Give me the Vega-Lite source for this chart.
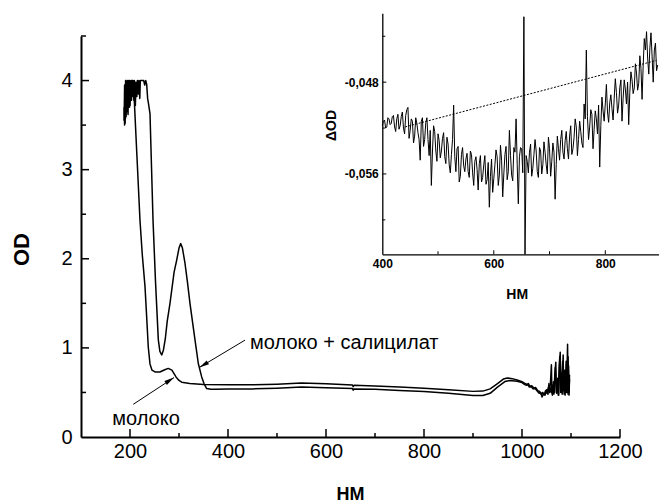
{
  "$schema": "https://vega.github.io/schema/vega-lite/v6.json",
  "width": 539,
  "height": 401,
  "autosize": {"type": "none"},
  "padding": {"left": 81, "top": 36, "right": 39, "bottom": 66},
  "background": "white",
  "config": {"view": {"stroke": null}, "font": "Liberation Sans", "axis": {"grid": false, "labelFlush": false, "labelOverlap": false, "domainColor": "black", "tickColor": "black", "labelColor": "black", "titleColor": "black"}},
  "datasets": {
    "mainticks": [
      {"axis":"x","kind":"major","v":200},{"axis":"x","kind":"major","v":400},{"axis":"x","kind":"major","v":600},{"axis":"x","kind":"major","v":800},{"axis":"x","kind":"major","v":1000},{"axis":"x","kind":"major","v":1200},
      {"axis":"x","kind":"minor","v":300},{"axis":"x","kind":"minor","v":500},{"axis":"x","kind":"minor","v":700},{"axis":"x","kind":"minor","v":900},{"axis":"x","kind":"minor","v":1100},
      {"axis":"y","kind":"major","v":1},{"axis":"y","kind":"major","v":2},{"axis":"y","kind":"major","v":3},{"axis":"y","kind":"major","v":4},
      {"axis":"y","kind":"minor","v":0.5},{"axis":"y","kind":"minor","v":1.5},{"axis":"y","kind":"minor","v":2.5},{"axis":"y","kind":"minor","v":3.5},{"axis":"y","kind":"minor","v":4.5}
    ],
    "insetticks": [
      {"axis":"x","kind":"major","v":600},{"axis":"x","kind":"major","v":800},
      {"axis":"x","kind":"minor","v":500},{"axis":"x","kind":"minor","v":700},
      {"axis":"y","kind":"major","v":-0.056},{"axis":"y","kind":"major","v":-0.048},
      {"axis":"y","kind":"minor","v":-0.06},{"axis":"y","kind":"minor","v":-0.052},{"axis":"y","kind":"minor","v":-0.044}
    ],
    "spectra": [
      {"nm":188,"od":3.55,"series":"молоко"},{"nm":189,"od":3.95,"series":"молоко"},{"nm":190,"od":3.52,"series":"молоко"},{"nm":191,"od":4.0,"series":"молоко"},{"nm":192,"od":3.6,"series":"молоко"},{"nm":193,"od":3.98,"series":"молоко"},{"nm":194,"od":3.7,"series":"молоко"},{"nm":195,"od":4.0,"series":"молоко"},{"nm":196,"od":3.75,"series":"молоко"},{"nm":197,"od":3.98,"series":"молоко"},{"nm":198,"od":3.8,"series":"молоко"},{"nm":199,"od":4.0,"series":"молоко"},{"nm":200,"od":3.72,"series":"молоко"},{"nm":202,"od":4.0,"series":"молоко"},{"nm":203,"od":3.78,"series":"молоко"},{"nm":205,"od":4.0,"series":"молоко"},{"nm":206,"od":3.82,"series":"молоко"},{"nm":207,"od":3.98,"series":"молоко"},{"nm":209,"od":3.75,"series":"молоко"},{"nm":214,"od":3.17,"series":"молоко"},{"nm":220.4,"od":2.43,"series":"молоко"},{"nm":225,"od":2.05,"series":"молоко"},{"nm":230.6,"od":1.69,"series":"молоко"},{"nm":234,"od":1.35,"series":"молоко"},{"nm":237.3,"od":1.01,"series":"молоко"},{"nm":240.8,"od":0.82,"series":"молоко"},{"nm":244.9,"od":0.75,"series":"молоко"},{"nm":251,"od":0.73,"series":"молоко"},{"nm":261,"od":0.73,"series":"молоко"},{"nm":271,"od":0.755,"series":"молоко"},{"nm":278,"od":0.77,"series":"молоко"},{"nm":285.5,"od":0.75,"series":"молоко"},{"nm":293.9,"od":0.674,"series":"молоко"},{"nm":300,"od":0.635,"series":"молоко"},{"nm":305.5,"od":0.615,"series":"молоко"},{"nm":322,"od":0.6,"series":"молоко"},{"nm":350,"od":0.59,"series":"молоко"},{"nm":400,"od":0.585,"series":"молоко"},{"nm":450,"od":0.585,"series":"молоко"},{"nm":500,"od":0.592,"series":"молоко"},{"nm":550,"od":0.605,"series":"молоко"},{"nm":600,"od":0.598,"series":"молоко"},{"nm":654,"od":0.583,"series":"молоко"},{"nm":655.5,"od":0.565,"series":"молоко"},{"nm":657,"od":0.58,"series":"молоко"},{"nm":700,"od":0.573,"series":"молоко"},{"nm":750,"od":0.56,"series":"молоко"},{"nm":800,"od":0.548,"series":"молоко"},{"nm":850,"od":0.53,"series":"молоко"},{"nm":900,"od":0.512,"series":"молоко"},{"nm":920,"od":0.515,"series":"молоко"},{"nm":935,"od":0.54,"series":"молоко"},{"nm":950,"od":0.6,"series":"молоко"},{"nm":962,"od":0.65,"series":"молоко"},{"nm":970,"od":0.662,"series":"молоко"},{"nm":980,"od":0.655,"series":"молоко"},{"nm":990,"od":0.64,"series":"молоко"},{"nm":1000,"od":0.62,"series":"молоко"},{"nm":1005,"od":0.605,"series":"молоко"},{"nm":1010,"od":0.59,"series":"молоко"},{"nm":1013,"od":0.6,"series":"молоко"},{"nm":1016,"od":0.57,"series":"молоко"},{"nm":1020,"od":0.575,"series":"молоко"},{"nm":1024,"od":0.55,"series":"молоко"},{"nm":1028,"od":0.555,"series":"молоко"},{"nm":1032,"od":0.52,"series":"молоко"},{"nm":1036,"od":0.51,"series":"молоко"},{"nm":1039,"od":0.48,"series":"молоко"},{"nm":1042,"od":0.5,"series":"молоко"},{"nm":1045,"od":0.47,"series":"молоко"},{"nm":1048,"od":0.52,"series":"молоко"},{"nm":1051,"od":0.49,"series":"молоко"},{"nm":1054,"od":0.56,"series":"молоко"},{"nm":1056,"od":0.5,"series":"молоко"},{"nm":1058,"od":0.6,"series":"молоко"},{"nm":1060,"od":0.81,"series":"молоко"},{"nm":1061,"od":0.5,"series":"молоко"},{"nm":1063,"od":0.58,"series":"молоко"},{"nm":1065,"od":0.48,"series":"молоко"},{"nm":1067,"od":0.7,"series":"молоко"},{"nm":1069,"od":0.84,"series":"молоко"},{"nm":1070,"od":0.5,"series":"молоко"},{"nm":1072,"od":0.62,"series":"молоко"},{"nm":1074,"od":0.47,"series":"молоко"},{"nm":1076,"od":0.8,"series":"молоко"},{"nm":1078,"od":0.95,"series":"молоко"},{"nm":1079,"od":0.5,"series":"молоко"},{"nm":1081,"od":0.7,"series":"молоко"},{"nm":1082,"od":0.48,"series":"молоко"},{"nm":1084,"od":0.92,"series":"молоко"},{"nm":1085,"od":0.52,"series":"молоко"},{"nm":1087,"od":0.75,"series":"молоко"},{"nm":1088,"od":0.47,"series":"молоко"},{"nm":1090,"od":0.85,"series":"молоко"},{"nm":1091,"od":0.5,"series":"молоко"},{"nm":1093,"od":1.04,"series":"молоко"},{"nm":1094,"od":0.48,"series":"молоко"},{"nm":1095,"od":0.8,"series":"молоко"},{"nm":1096,"od":0.5,"series":"молоко"},{"nm":1097,"od":0.7,"series":"молоко"},
      {"nm":188,"od":3.7,"series":"молоко + салицилат"},{"nm":189,"od":3.5,"series":"молоко + салицилат"},{"nm":190,"od":3.9,"series":"молоко + салицилат"},{"nm":191,"od":3.58,"series":"молоко + салицилат"},{"nm":192,"od":4.0,"series":"молоко + салицилат"},{"nm":193,"od":3.65,"series":"молоко + салицилат"},{"nm":194,"od":3.95,"series":"молоко + салицилат"},{"nm":196,"od":3.62,"series":"молоко + салицилат"},{"nm":197,"od":4.0,"series":"молоко + салицилат"},{"nm":199,"od":3.7,"series":"молоко + салицилат"},{"nm":200,"od":3.98,"series":"молоко + салицилат"},{"nm":201,"od":3.8,"series":"молоко + салицилат"},{"nm":203,"od":4.0,"series":"молоко + салицилат"},{"nm":205,"od":3.85,"series":"молоко + салицилат"},{"nm":206,"od":4.0,"series":"молоко + салицилат"},{"nm":208,"od":3.78,"series":"молоко + салицилат"},{"nm":209,"od":4.0,"series":"молоко + салицилат"},{"nm":211,"od":3.72,"series":"молоко + салицилат"},{"nm":212,"od":3.98,"series":"молоко + салицилат"},{"nm":214,"od":3.82,"series":"молоко + салицилат"},{"nm":215,"od":4.0,"series":"молоко + салицилат"},{"nm":217,"od":3.85,"series":"молоко + салицилат"},{"nm":218,"od":4.0,"series":"молоко + салицилат"},{"nm":220,"od":3.8,"series":"молоко + салицилат"},{"nm":221,"od":4.0,"series":"молоко + салицилат"},{"nm":228,"od":4.0,"series":"молоко + салицилат"},{"nm":230,"od":3.95,"series":"молоко + салицилат"},{"nm":232,"od":4.0,"series":"молоко + салицилат"},{"nm":234,"od":3.96,"series":"молоко + салицилат"},{"nm":236,"od":3.8,"series":"молоко + салицилат"},{"nm":237.5,"od":3.75,"series":"молоко + салицилат"},{"nm":240.8,"od":3.63,"series":"молоко + салицилат"},{"nm":247,"od":2.43,"series":"молоко + салицилат"},{"nm":252,"od":1.75,"series":"молоко + салицилат"},{"nm":257.8,"od":1.09,"series":"молоко + салицилат"},{"nm":261,"od":0.96,"series":"молоко + салицилат"},{"nm":264.7,"od":0.92,"series":"молоко + салицилат"},{"nm":268,"od":0.97,"series":"молоко + салицилат"},{"nm":272,"od":1.1,"series":"молоко + салицилат"},{"nm":276,"od":1.3,"series":"молоко + салицилат"},{"nm":281.6,"od":1.5,"series":"молоко + салицилат"},{"nm":290,"od":1.85,"series":"молоко + салицилат"},{"nm":295.3,"od":1.985,"series":"молоко + салицилат"},{"nm":300,"od":2.12,"series":"молоко + салицилат"},{"nm":303.5,"od":2.17,"series":"молоко + салицилат"},{"nm":307,"od":2.12,"series":"молоко + салицилат"},{"nm":312.2,"od":1.95,"series":"молоко + салицилат"},{"nm":317,"od":1.75,"series":"молоко + салицилат"},{"nm":322.4,"od":1.5,"series":"молоко + салицилат"},{"nm":332.7,"od":1.087,"series":"молоко + салицилат"},{"nm":339.4,"od":0.825,"series":"молоко + салицилат"},{"nm":346.3,"od":0.674,"series":"молоко + салицилат"},{"nm":351,"od":0.6,"series":"молоко + салицилат"},{"nm":356.5,"od":0.544,"series":"молоко + салицилат"},{"nm":365,"od":0.535,"series":"молоко + салицилат"},{"nm":373.5,"od":0.536,"series":"молоко + салицилат"},{"nm":400,"od":0.54,"series":"молоко + салицилат"},{"nm":450,"od":0.54,"series":"молоко + салицилат"},{"nm":500,"od":0.547,"series":"молоко + салицилат"},{"nm":550,"od":0.56,"series":"молоко + салицилат"},{"nm":600,"od":0.553,"series":"молоко + салицилат"},{"nm":654,"od":0.543,"series":"молоко + салицилат"},{"nm":655.5,"od":0.525,"series":"молоко + салицилат"},{"nm":657,"od":0.54,"series":"молоко + салицилат"},{"nm":700,"od":0.535,"series":"молоко + салицилат"},{"nm":750,"od":0.522,"series":"молоко + салицилат"},{"nm":800,"od":0.51,"series":"молоко + салицилат"},{"nm":850,"od":0.49,"series":"молоко + салицилат"},{"nm":900,"od":0.466,"series":"молоко + салицилат"},{"nm":920,"od":0.465,"series":"молоко + салицилат"},{"nm":935,"od":0.49,"series":"молоко + салицилат"},{"nm":950,"od":0.56,"series":"молоко + салицилат"},{"nm":965,"od":0.622,"series":"молоко + салицилат"},{"nm":975,"od":0.635,"series":"молоко + салицилат"},{"nm":990,"od":0.625,"series":"молоко + салицилат"},{"nm":1000,"od":0.61,"series":"молоко + салицилат"},{"nm":1005,"od":0.59,"series":"молоко + салицилат"},{"nm":1009,"od":0.58,"series":"молоко + салицилат"},{"nm":1012,"od":0.585,"series":"молоко + салицилат"},{"nm":1015,"od":0.56,"series":"молоко + салицилат"},{"nm":1019,"od":0.565,"series":"молоко + салицилат"},{"nm":1023,"od":0.54,"series":"молоко + салицилат"},{"nm":1027,"od":0.545,"series":"молоко + салицилат"},{"nm":1031,"od":0.515,"series":"молоко + салицилат"},{"nm":1035,"od":0.49,"series":"молоко + салицилат"},{"nm":1038,"od":0.5,"series":"молоко + салицилат"},{"nm":1041,"od":0.45,"series":"молоко + салицилат"},{"nm":1044,"od":0.49,"series":"молоко + салицилат"},{"nm":1047,"od":0.47,"series":"молоко + салицилат"},{"nm":1050,"od":0.53,"series":"молоко + салицилат"},{"nm":1053,"od":0.48,"series":"молоко + салицилат"},{"nm":1055,"od":0.6,"series":"молоко + салицилат"},{"nm":1057,"od":0.5,"series":"молоко + салицилат"},{"nm":1059,"od":0.55,"series":"молоко + салицилат"},{"nm":1062,"od":0.47,"series":"молоко + салицилат"},{"nm":1064,"od":0.62,"series":"молоко + салицилат"},{"nm":1066,"od":0.5,"series":"молоко + салицилат"},{"nm":1068,"od":0.78,"series":"молоко + салицилат"},{"nm":1071,"od":0.49,"series":"молоко + салицилат"},{"nm":1073,"od":0.66,"series":"молоко + салицилат"},{"nm":1075,"od":0.47,"series":"молоко + салицилат"},{"nm":1077,"od":0.9,"series":"молоко + салицилат"},{"nm":1080,"od":0.55,"series":"молоко + салицилат"},{"nm":1083,"od":0.85,"series":"молоко + салицилат"},{"nm":1086,"od":0.48,"series":"молоко + салицилат"},{"nm":1089,"od":0.72,"series":"молоко + салицилат"},{"nm":1092,"od":0.52,"series":"молоко + салицилат"},{"nm":1094,"od":0.9,"series":"молоко + салицилат"},{"nm":1096,"od":0.47,"series":"молоко + салицилат"},{"nm":1097,"od":0.65,"series":"молоко + салицилат"}
    ],
    "inset": [
      {"nm":400,"dod":-0.0518},{"nm":402,"dod":-0.0514},{"nm":404,"dod":-0.0513},{"nm":406,"dod":-0.052},{"nm":408,"dod":-0.0519},{"nm":410,"dod":-0.0511},{"nm":412,"dod":-0.0512},{"nm":414,"dod":-0.0517},{"nm":416,"dod":-0.0516},{"nm":418,"dod":-0.051},{"nm":420,"dod":-0.0509},{"nm":422,"dod":-0.0519},{"nm":424,"dod":-0.0523},{"nm":426,"dod":-0.0512},{"nm":428,"dod":-0.0508},{"nm":430,"dod":-0.0521},{"nm":432,"dod":-0.0518},{"nm":434,"dod":-0.051},{"nm":436,"dod":-0.0506},{"nm":438,"dod":-0.052},{"nm":440,"dod":-0.0525},{"nm":442,"dod":-0.0509},{"nm":444,"dod":-0.0504},{"nm":446,"dod":-0.0502},{"nm":448,"dod":-0.0529},{"nm":450,"dod":-0.0522},{"nm":452,"dod":-0.0512},{"nm":454,"dod":-0.0514},{"nm":456,"dod":-0.0533},{"nm":458,"dod":-0.0527},{"nm":460,"dod":-0.0511},{"nm":462,"dod":-0.0516},{"nm":464,"dod":-0.0524},{"nm":466,"dod":-0.053},{"nm":468,"dod":-0.0548},{"nm":470,"dod":-0.0514},{"nm":472,"dod":-0.0511},{"nm":474,"dod":-0.0536},{"nm":476,"dod":-0.053},{"nm":478,"dod":-0.0515},{"nm":480,"dod":-0.0511},{"nm":482,"dod":-0.053},{"nm":484,"dod":-0.0544},{"nm":486,"dod":-0.0522},{"nm":488,"dod":-0.057},{"nm":490,"dod":-0.054},{"nm":492,"dod":-0.0518},{"nm":494,"dod":-0.0523},{"nm":496,"dod":-0.054},{"nm":498,"dod":-0.0549},{"nm":500,"dod":-0.0525},{"nm":502,"dod":-0.0531},{"nm":504,"dod":-0.0546},{"nm":506,"dod":-0.054},{"nm":508,"dod":-0.0529},{"nm":510,"dod":-0.0524},{"nm":512,"dod":-0.0545},{"nm":514,"dod":-0.0551},{"nm":516,"dod":-0.0528},{"nm":518,"dod":-0.0534},{"nm":520,"dod":-0.0552},{"nm":522,"dod":-0.0559},{"nm":524,"dod":-0.0543},{"nm":526,"dod":-0.053},{"nm":528,"dod":-0.05},{"nm":530,"dod":-0.0545},{"nm":532,"dod":-0.0558},{"nm":534,"dod":-0.0538},{"nm":536,"dod":-0.0536},{"nm":538,"dod":-0.0567},{"nm":540,"dod":-0.0562},{"nm":542,"dod":-0.0543},{"nm":544,"dod":-0.0537},{"nm":546,"dod":-0.0553},{"nm":548,"dod":-0.0558},{"nm":550,"dod":-0.0547},{"nm":552,"dod":-0.0542},{"nm":554,"dod":-0.0558},{"nm":556,"dod":-0.0563},{"nm":558,"dod":-0.054},{"nm":560,"dod":-0.0543},{"nm":562,"dod":-0.0559},{"nm":564,"dod":-0.057},{"nm":566,"dod":-0.0549},{"nm":568,"dod":-0.0545},{"nm":570,"dod":-0.0556},{"nm":572,"dod":-0.0574},{"nm":574,"dod":-0.0551},{"nm":576,"dod":-0.0544},{"nm":578,"dod":-0.0567},{"nm":580,"dod":-0.0563},{"nm":582,"dod":-0.0552},{"nm":584,"dod":-0.0544},{"nm":586,"dod":-0.0569},{"nm":588,"dod":-0.0565},{"nm":590,"dod":-0.055},{"nm":592,"dod":-0.0589},{"nm":594,"dod":-0.0562},{"nm":596,"dod":-0.0547},{"nm":598,"dod":-0.0576},{"nm":600,"dod":-0.0564},{"nm":602,"dod":-0.0552},{"nm":604,"dod":-0.0539},{"nm":606,"dod":-0.0545},{"nm":608,"dod":-0.057},{"nm":610,"dod":-0.0561},{"nm":612,"dod":-0.0535},{"nm":614,"dod":-0.0548},{"nm":616,"dod":-0.058},{"nm":618,"dod":-0.056},{"nm":620,"dod":-0.0543},{"nm":622,"dod":-0.0536},{"nm":624,"dod":-0.0565},{"nm":626,"dod":-0.0558},{"nm":628,"dod":-0.0522},{"nm":630,"dod":-0.0544},{"nm":632,"dod":-0.0561},{"nm":634,"dod":-0.0566},{"nm":636,"dod":-0.0537},{"nm":638,"dod":-0.0541},{"nm":640,"dod":-0.0512},{"nm":642,"dod":-0.0552},{"nm":644,"dod":-0.0586},{"nm":646,"dod":-0.0545},{"nm":648,"dod":-0.0537},{"nm":650,"dod":-0.0538},{"nm":652,"dod":-0.0559},{"nm":654,"dod":-0.0423},{"nm":656,"dod":-0.063},{"nm":658,"dod":-0.0544},{"nm":660,"dod":-0.0549},{"nm":662,"dod":-0.0559},{"nm":664,"dod":-0.0541},{"nm":666,"dod":-0.0534},{"nm":668,"dod":-0.0562},{"nm":670,"dod":-0.0555},{"nm":672,"dod":-0.0543},{"nm":674,"dod":-0.053},{"nm":676,"dod":-0.054},{"nm":678,"dod":-0.0558},{"nm":680,"dod":-0.0563},{"nm":682,"dod":-0.0537},{"nm":684,"dod":-0.054},{"nm":686,"dod":-0.056},{"nm":688,"dod":-0.0552},{"nm":690,"dod":-0.0532},{"nm":692,"dod":-0.0541},{"nm":694,"dod":-0.0552},{"nm":696,"dod":-0.056},{"nm":698,"dod":-0.0528},{"nm":700,"dod":-0.0538},{"nm":702,"dod":-0.0562},{"nm":704,"dod":-0.0549},{"nm":706,"dod":-0.0533},{"nm":708,"dod":-0.0541},{"nm":710,"dod":-0.0582},{"nm":712,"dod":-0.0552},{"nm":714,"dod":-0.0527},{"nm":716,"dod":-0.0538},{"nm":718,"dod":-0.0548},{"nm":720,"dod":-0.053},{"nm":722,"dod":-0.0522},{"nm":724,"dod":-0.0541},{"nm":726,"dod":-0.0547},{"nm":728,"dod":-0.0531},{"nm":730,"dod":-0.0523},{"nm":732,"dod":-0.0538},{"nm":734,"dod":-0.0547},{"nm":736,"dod":-0.0527},{"nm":738,"dod":-0.0518},{"nm":740,"dod":-0.0543},{"nm":742,"dod":-0.0538},{"nm":744,"dod":-0.0528},{"nm":746,"dod":-0.0512},{"nm":748,"dod":-0.0519},{"nm":750,"dod":-0.0544},{"nm":752,"dod":-0.053},{"nm":754,"dod":-0.0514},{"nm":756,"dod":-0.0523},{"nm":758,"dod":-0.0533},{"nm":760,"dod":-0.0537},{"nm":762,"dod":-0.0499},{"nm":764,"dod":-0.0512},{"nm":766,"dod":-0.0452},{"nm":768,"dod":-0.051},{"nm":770,"dod":-0.053},{"nm":772,"dod":-0.0519},{"nm":774,"dod":-0.0504},{"nm":776,"dod":-0.0508},{"nm":778,"dod":-0.0538},{"nm":780,"dod":-0.0521},{"nm":782,"dod":-0.0505},{"nm":784,"dod":-0.0512},{"nm":786,"dod":-0.0525},{"nm":788,"dod":-0.05},{"nm":790,"dod":-0.0554},{"nm":792,"dod":-0.0518},{"nm":794,"dod":-0.0493},{"nm":796,"dod":-0.0505},{"nm":798,"dod":-0.0514},{"nm":800,"dod":-0.0499},{"nm":802,"dod":-0.0482},{"nm":804,"dod":-0.0506},{"nm":806,"dod":-0.0515},{"nm":808,"dod":-0.0498},{"nm":810,"dod":-0.0491},{"nm":812,"dod":-0.0503},{"nm":814,"dod":-0.0513},{"nm":816,"dod":-0.0494},{"nm":818,"dod":-0.0477},{"nm":820,"dod":-0.0489},{"nm":822,"dod":-0.0507},{"nm":824,"dod":-0.05},{"nm":826,"dod":-0.0485},{"nm":828,"dod":-0.0478},{"nm":830,"dod":-0.0514},{"nm":832,"dod":-0.0494},{"nm":834,"dod":-0.0478},{"nm":836,"dod":-0.0486},{"nm":838,"dod":-0.0499},{"nm":840,"dod":-0.048},{"nm":842,"dod":-0.0517},{"nm":844,"dod":-0.0489},{"nm":846,"dod":-0.0471},{"nm":848,"dod":-0.0478},{"nm":850,"dod":-0.049},{"nm":852,"dod":-0.0485},{"nm":854,"dod":-0.0464},{"nm":856,"dod":-0.0472},{"nm":858,"dod":-0.0487},{"nm":860,"dod":-0.0481},{"nm":862,"dod":-0.0457},{"nm":864,"dod":-0.0468},{"nm":866,"dod":-0.0495},{"nm":868,"dod":-0.0465},{"nm":870,"dod":-0.0442},{"nm":872,"dod":-0.0452},{"nm":874,"dod":-0.0436},{"nm":876,"dod":-0.0459},{"nm":878,"dod":-0.0473},{"nm":880,"dod":-0.045},{"nm":882,"dod":-0.0437},{"nm":884,"dod":-0.0458},{"nm":886,"dod":-0.048},{"nm":888,"dod":-0.0452},{"nm":890,"dod":-0.0446},{"nm":892,"dod":-0.047},{"nm":894,"dod":-0.0465}
    ]
  },
  "layer": [
    {
      "layer": [
        {
          "data": {"name": "spectra"},
          "mark": {"type": "line", "color": "black", "strokeWidth": 1.5, "strokeJoin": "round"},
          "encoding": {
            "x": {"field": "nm", "type": "quantitative", "scale": {"domain": [100, 1200], "nice": false, "zero": false},
              "axis": {"orient": "bottom", "title": "НМ", "titleFont": "Liberation Sans", "titleFontSize": 18, "titleFontWeight": "bold", "titleX": 269, "titleY": 62.5, "titleBaseline": "alphabetic", "titleAlign": "center", "titleAnchor": null,
                "values": [200, 400, 600, 800, 1000, 1200], "format": "d",
                "labelFontSize": 20, "labelPadding": 4, "domainWidth": 2, "ticks": false, "tickSize": 0}},
            "y": {"field": "od", "type": "quantitative", "scale": {"domain": [0, 4.5], "nice": false, "zero": false},
              "axis": {"orient": "left", "title": "OD", "titleFont": "Liberation Sans", "titleFontSize": 22, "titleFontWeight": "bold", "titleX": -52.7, "titleY": 213, "titleAngle": -90, "titleBaseline": "alphabetic", "titleAlign": "center",
                "values": [0, 1, 2, 3, 4], "format": "d",
                "labelFontSize": 20, "labelPadding": 9, "domainWidth": 2, "ticks": false, "tickSize": 0}},
            "detail": {"field": "series", "type": "nominal"}
          }
        },
        {
          "data": {"name": "mainticks"},
          "transform": [{"filter": "datum.axis === 'x' && datum.kind === 'major'"}],
          "mark": {"type": "rule", "color": "black", "strokeWidth": 1.5},
          "encoding": {"x": {"field": "v", "type": "quantitative"}, "y": {"datum": 0, "type": "quantitative"}, "y2": {"datum": 0.09}}
        },
        {
          "data": {"name": "mainticks"},
          "transform": [{"filter": "datum.axis === 'x' && datum.kind === 'minor'"}],
          "mark": {"type": "rule", "color": "black", "strokeWidth": 1.5},
          "encoding": {"x": {"field": "v", "type": "quantitative"}, "y": {"datum": 0, "type": "quantitative"}, "y2": {"datum": 0.045}}
        },
        {
          "data": {"name": "mainticks"},
          "transform": [{"filter": "datum.axis === 'y' && datum.kind === 'major'"}],
          "mark": {"type": "rule", "color": "black", "strokeWidth": 1.5},
          "encoding": {"y": {"field": "v", "type": "quantitative"}, "x": {"datum": 100, "type": "quantitative"}, "x2": {"datum": 116.3}}
        },
        {
          "data": {"name": "mainticks"},
          "transform": [{"filter": "datum.axis === 'y' && datum.kind === 'minor'"}],
          "mark": {"type": "rule", "color": "black", "strokeWidth": 1.5},
          "encoding": {"y": {"field": "v", "type": "quantitative"}, "x": {"datum": 100, "type": "quantitative"}, "x2": {"datum": 110.2}}
        },
        {
          "data": {"values": [{}]},
          "mark": {"type": "text", "font": "Liberation Sans", "fontSize": 20, "align": "left", "baseline": "alphabetic", "color": "black"},
          "encoding": {"x": {"datum": 445, "type": "quantitative"}, "y": {"datum": 0.99, "type": "quantitative"}, "text": {"value": "молоко + салицилат"}}
        },
        {
          "data": {"values": [{}]},
          "mark": {"type": "text", "font": "Liberation Sans", "fontSize": 20, "align": "center", "baseline": "alphabetic", "color": "black"},
          "encoding": {"x": {"datum": 232.7, "type": "quantitative"}, "y": {"datum": 0.131, "type": "quantitative"}, "text": {"value": "молоко"}}
        },
        {
          "data": {"values": [{}]},
          "mark": {"type": "rule", "color": "black", "strokeWidth": 1},
          "encoding": {"x": {"datum": 434.7, "type": "quantitative"}, "y": {"datum": 1.087, "type": "quantitative"}, "x2": {"datum": 341.4}, "y2": {"datum": 0.78}}
        },
        {
          "data": {"values": [{}]},
          "mark": {"type": "point", "filled": true, "color": "black", "opacity": 1, "strokeWidth": 0, "shape": "M0,0L0.45,2L-0.45,2Z", "size": 100, "angle": 239},
          "encoding": {"x": {"datum": 341.4, "type": "quantitative"}, "y": {"datum": 0.78, "type": "quantitative"}}
        },
        {
          "data": {"values": [{}]},
          "mark": {"type": "rule", "color": "black", "strokeWidth": 1},
          "encoding": {"x": {"datum": 206.7, "type": "quantitative"}, "y": {"datum": 0.367, "type": "quantitative"}, "x2": {"datum": 289.8}, "y2": {"datum": 0.667}}
        },
        {
          "data": {"values": [{}]},
          "mark": {"type": "point", "filled": true, "color": "black", "opacity": 1, "strokeWidth": 0, "shape": "M0,0L0.45,2L-0.45,2Z", "size": 100, "angle": 57},
          "encoding": {"x": {"datum": 289.8, "type": "quantitative"}, "y": {"datum": 0.667, "type": "quantitative"}}
        }
      ]
    },
    {
      "layer": [
        {
          "data": {"name": "inset"},
          "mark": {"type": "line", "color": "black", "strokeWidth": 1},
          "encoding": {
            "x": {"field": "nm", "type": "quantitative", "scale": {"domain": [400, 896], "range": [301.3, 577.8], "nice": false, "zero": false},
              "axis": {"orient": "bottom", "offset": -182.7, "title": "НМ", "titleFont": "Liberation Sans", "titleFontSize": 14, "titleFontWeight": "bold", "titleX": 435.7, "titleY": 43.7, "titleBaseline": "alphabetic", "titleAlign": "center", "titleAnchor": null,
                "values": [400, 600, 800], "format": "d",
                "labelFontSize": 12, "labelFontWeight": "bold", "labelPadding": 4, "domainWidth": 1.3, "ticks": false, "tickSize": 0}},
            "y": {"field": "dod", "type": "quantitative", "scale": {"domain": [-0.063, -0.042], "range": [218.3, -22.7], "nice": false, "zero": false},
              "axis": {"orient": "left", "offset": -301.3, "title": "ΔOD", "titleFont": "Liberation Sans", "titleFontSize": 14, "titleFontWeight": "bold", "titleX": -47.3, "titleY": 89, "titleAngle": -90, "titleBaseline": "alphabetic", "titleAlign": "center",
                "values": [-0.056, -0.048],
                "labelExpr": "'-0,0' + round(abs(datum.value) * 1000)",
                "labelFontSize": 12, "labelFontWeight": "bold", "labelPadding": 4, "domainWidth": 1.3, "ticks": false, "tickSize": 0}}
          }
        },
        {
          "data": {"name": "insetticks"},
          "transform": [{"filter": "datum.axis === 'x' && datum.kind === 'major'"}],
          "mark": {"type": "rule", "color": "black", "strokeWidth": 1},
          "encoding": {"x": {"field": "v", "type": "quantitative"}, "y": {"datum": -0.063, "type": "quantitative"}, "y2": {"datum": -0.06265}}
        },
        {
          "data": {"name": "insetticks"},
          "transform": [{"filter": "datum.axis === 'x' && datum.kind === 'minor'"}],
          "mark": {"type": "rule", "color": "black", "strokeWidth": 1},
          "encoding": {"x": {"field": "v", "type": "quantitative"}, "y": {"datum": -0.063, "type": "quantitative"}, "y2": {"datum": -0.06274}}
        },
        {
          "data": {"name": "insetticks"},
          "transform": [{"filter": "datum.axis === 'y' && datum.kind === 'major'"}],
          "mark": {"type": "rule", "color": "black", "strokeWidth": 1},
          "encoding": {"y": {"field": "v", "type": "quantitative"}, "x": {"datum": 400, "type": "quantitative"}, "x2": {"datum": 407.2}}
        },
        {
          "data": {"name": "insetticks"},
          "transform": [{"filter": "datum.axis === 'y' && datum.kind === 'minor'"}],
          "mark": {"type": "rule", "color": "black", "strokeWidth": 1},
          "encoding": {"y": {"field": "v", "type": "quantitative"}, "x": {"datum": 400, "type": "quantitative"}, "x2": {"datum": 405.4}}
        },
        {
          "data": {"values": [{}]},
          "mark": {"type": "rule", "color": "black", "strokeWidth": 1, "strokeDash": [2, 1.5]},
          "encoding": {"x": {"datum": 441, "type": "quantitative"}, "y": {"datum": -0.0519, "type": "quantitative"}, "x2": {"datum": 892}, "y2": {"datum": -0.0461}}
        }
      ]
    }
  ],
  "resolve": {"scale": {"x": "independent", "y": "independent"}}
}
